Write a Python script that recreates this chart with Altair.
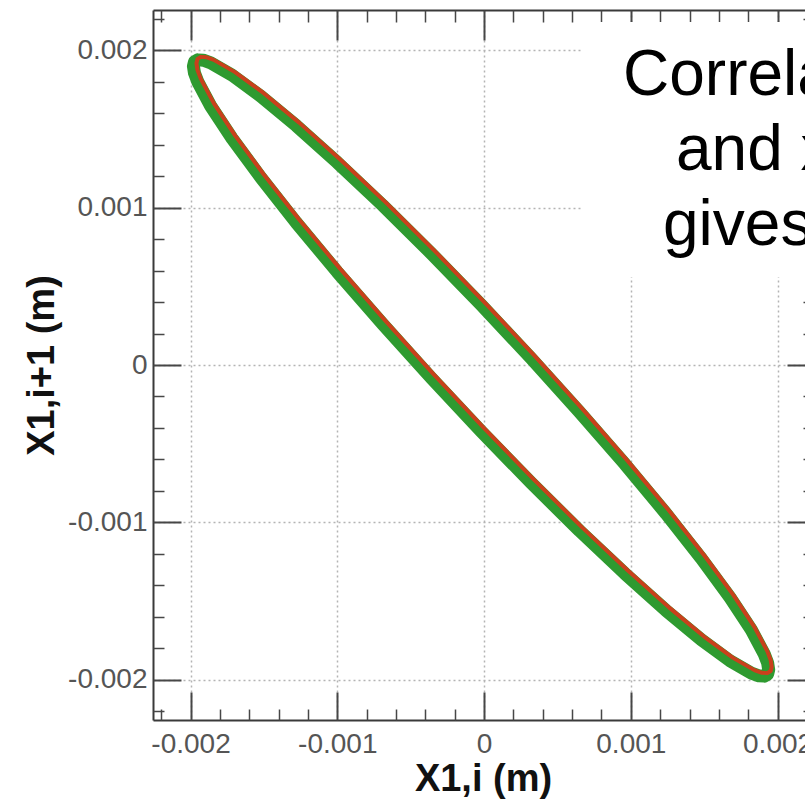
import altair as alt
import pandas as pd

# ---- data (metres) ----
x_vals = [0.001960, 0.001953, 0.001930, 0.001893, 0.001842, 0.001697, 0.001501, 0.001260,
          0.000980, 0.000670, 0.000340, 0.000000, -0.000340, -0.000670, -0.000980, -0.001260,
          -0.001501, -0.001697, -0.001842, -0.001930, -0.001953, -0.001960, -0.001953, -0.001930,
          -0.001893, -0.001842, -0.001697, -0.001501, -0.001260, -0.000980, -0.000670, -0.000340,
          0.000000, 0.000340, 0.000670, 0.000980, 0.001260, 0.001501, 0.001697, 0.001842,
          0.001930, 0.001953, 0.001960]
y_vals = [-0.001918, -0.001946, -0.001959, -0.001957, -0.001940, -0.001862, -0.001728, -0.001541,
          -0.001307, -0.001034, -0.000729, -0.000402, -0.000063, 0.000279, 0.000611, 0.000925,
          0.001211, 0.001460, 0.001665, 0.001819, 0.001876, 0.001918, 0.001946, 0.001959,
          0.001957, 0.001940, 0.001862, 0.001728, 0.001541, 0.001307, 0.001034, 0.000729,
          0.000402, 0.000063, -0.000279, -0.000611, -0.000925, -0.001211, -0.001460, -0.001665,
          -0.001819, -0.001876, -0.001918]

major_ticks = [-0.002, -0.001, 0.0, 0.001, 0.002]
major_labels = ["-0.002", "-0.001", "0", "0.001", "0.002"]
minor_ticks = [-0.0022, -0.0018, -0.0016, -0.0014, -0.0012, -0.0008, -0.0006, -0.0004, -0.0002,
               0.0002, 0.0004, 0.0006, 0.0008, 0.0012, 0.0014, 0.0016, 0.0018, 0.0022]
x_title = "X1,i (m)"
y_title = "X1,i+1 (m)"
note_lines = ["Correlation between", "and x1,i+1", "gives an ellipse"]

X_DOMAIN = [-0.002256, 0.002187]
Y_DOMAIN = [-0.002257, 0.002257]

df = pd.DataFrame({"k": list(range(len(x_vals))), "x": x_vals, "y": y_vals})

FONT = "Liberation Sans"
TICK_COL = "#474747"
label_expr = ("[" + ",".join(f"'{s}'" for s in major_labels) + "][indexof(["
              + ",".join(repr(v) for v in major_ticks) + "], datum.value)]")

GRID = dict(grid=True, gridDash=[2, 3], gridColor="#b4b4b4", gridWidth=1.5)


def frame_axis(orient, grid):
    kw = dict(orient=orient, offset=0, domain=True, domainColor="#3a3a3a", domainWidth=2,
              ticks=False, labels=False, title=None)
    if grid:
        kw.update(GRID)
        kw["values"] = major_ticks
    else:
        kw["grid"] = False
    return alt.Axis(**kw)


def tick_axis(orient, offset, size, values, width=2):
    return alt.Axis(orient=orient, offset=offset, tickSize=size, values=values, domain=False,
                    grid=False, ticks=True, tickColor=TICK_COL, tickWidth=width,
                    labels=False, title=None)


x_major = alt.Axis(orient="bottom", offset=-28, tickSize=28, values=major_ticks, domain=False,
                   grid=False, ticks=True, tickColor=TICK_COL, tickWidth=2,
                   labels=True, labelExpr=label_expr, labelFont=FONT, labelFontSize=28,
                   labelColor="#555555", labelPadding=10, labelFlush=False, labelOverlap=False,
                   title=x_title, titleFont=FONT, titleFontSize=38, titleFontWeight="bold",
                   titleColor="#111111", titleX=330, titleY=98, titleBaseline="alphabetic",
                   titleAlign="center")
y_major = alt.Axis(orient="left", offset=-28, tickSize=28, values=major_ticks, domain=False,
                   grid=False, ticks=True, tickColor=TICK_COL, tickWidth=2,
                   labels=True, labelExpr=label_expr, labelFont=FONT, labelFontSize=28,
                   labelColor="#555555", labelPadding=6, labelFlush=False, labelOverlap=False,
                   title=y_title, titleFont=FONT, titleFontSize=38, titleFontWeight="bold",
                   titleColor="#111111", titleX=-128, titleY=355, titleAngle=270,
                   titleBaseline="alphabetic", titleAlign="center")


def enc(xaxis, yaxis):
    return dict(
        x=alt.X("x:Q", scale=alt.Scale(domain=X_DOMAIN, nice=False, zero=False), axis=xaxis),
        y=alt.Y("y:Q", scale=alt.Scale(domain=Y_DOMAIN, nice=False, zero=False), axis=yaxis),
        order=alt.Order("k:Q"),
    )


base = alt.Chart(df)

green = base.mark_line(color="#2e9a30", strokeWidth=13, strokeCap="round", strokeJoin="round",
                       xOffset=-3, yOffset=3).encode(
    **enc(frame_axis("bottom", True), frame_axis("left", True)))
red = base.mark_line(color="#c9401c", strokeWidth=4, strokeCap="round", strokeJoin="round").encode(
    **enc(x_major, y_major))
d1 = base.mark_line(strokeOpacity=0).encode(
    **enc(tick_axis("bottom", -11, 11, minor_ticks, 1.5), tick_axis("left", -11, 11, minor_ticks, 1.5)))
d2 = base.mark_line(strokeOpacity=0).encode(
    **enc(frame_axis("top", False), tick_axis("right", -18, 27, major_ticks)))
d3 = base.mark_line(strokeOpacity=0).encode(
    **enc(tick_axis("top", -30, 30, major_ticks), tick_axis("right", -2, 12, minor_ticks, 1.5)))
d4 = base.mark_line(strokeOpacity=0).encode(
    **enc(tick_axis("top", -12, 12, minor_ticks, 1.5), None))

box = alt.Chart(pd.DataFrame({"b": [1]})).mark_rect(color="white").encode(
    x=alt.value(430), x2=alt.value(720), y=alt.value(12), y2=alt.value(267))


def note(i, px, py):
    return alt.Chart(pd.DataFrame({"t": [note_lines[i]]})).mark_text(
        align="left", baseline="alphabetic", font=FONT, fontSize=64, color="#000000"
    ).encode(text="t:N", x=alt.value(px), y=alt.value(py))


chart = alt.layer(
    green, red, d1, d2, d3, d4, box,
    note(0, 470, 85), note(1, 523, 160), note(2, 510, 235)
).resolve_axis(x="independent", y="independent").properties(
    width=652, height=710,
    padding={"left": 153, "top": 10, "right": 0, "bottom": 82},
    autosize=alt.AutoSizeParams(type="none"),
    background="white",
).configure_view(strokeWidth=0)

chart.save("out.html", embed_options={"renderer": "svg", "actions": False})
